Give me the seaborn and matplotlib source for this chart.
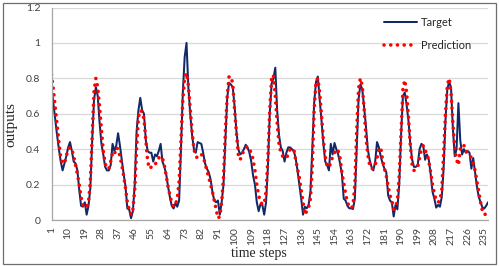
import matplotlib
matplotlib.use("Agg")
import matplotlib.pyplot as plt
from matplotlib.patches import Rectangle
import seaborn as sns
import pandas as pd

# =====================================================
# DATA
# =====================================================

target = [
    0.75, 0.66, 0.57, 0.48, 0.40, 0.33, 0.28, 0.32, 0.36, 0.41,
    0.44, 0.39, 0.33, 0.32, 0.28, 0.17, 0.08, 0.075, 0.10, 0.03,
    0.08, 0.18, 0.45, 0.68, 0.75, 0.70, 0.55, 0.43, 0.37, 0.30,
    0.28, 0.28, 0.31, 0.43, 0.39, 0.42, 0.49, 0.42, 0.34, 0.26,
    0.19, 0.065, 0.06, 0.01, 0.05, 0.20, 0.50, 0.62, 0.69, 0.62,
    0.60, 0.45, 0.39, 0.38, 0.38, 0.33, 0.37, 0.36, 0.39, 0.43,
    0.33, 0.30, 0.26, 0.19, 0.13, 0.08, 0.065, 0.095, 0.075, 0.11,
    0.40, 0.72, 0.92, 1.0, 0.75, 0.60, 0.48, 0.40, 0.38, 0.44,
    0.435, 0.43, 0.38, 0.32, 0.29, 0.27, 0.23, 0.16, 0.11, 0.10,
    0.11, 0.03, 0.10, 0.20, 0.45, 0.69, 0.775, 0.765, 0.75, 0.64,
    0.50, 0.40, 0.37, 0.38, 0.40, 0.425, 0.41, 0.38, 0.33, 0.25,
    0.20, 0.10, 0.05, 0.09, 0.085, 0.03, 0.10, 0.30, 0.60, 0.77,
    0.80, 0.86, 0.62, 0.48, 0.41, 0.39, 0.33, 0.38, 0.41, 0.41,
    0.40, 0.39, 0.35, 0.28, 0.20, 0.12, 0.03, 0.075, 0.066, 0.085,
    0.16, 0.40, 0.66, 0.78, 0.81, 0.68, 0.56, 0.43, 0.33, 0.31,
    0.28, 0.43, 0.37, 0.435, 0.40, 0.37, 0.32, 0.26, 0.12, 0.11,
    0.08, 0.066, 0.066, 0.062, 0.12, 0.40, 0.68, 0.765, 0.74, 0.64,
    0.53, 0.40, 0.34, 0.30, 0.28, 0.33, 0.44, 0.41, 0.36, 0.32,
    0.29, 0.27, 0.14, 0.11, 0.10, 0.02, 0.085, 0.06, 0.20, 0.48,
    0.70, 0.72, 0.65, 0.56, 0.43, 0.34, 0.30, 0.30, 0.31, 0.40,
    0.43, 0.42, 0.34, 0.37, 0.34, 0.26, 0.16, 0.12, 0.07, 0.085,
    0.075, 0.13, 0.29, 0.56, 0.74, 0.78, 0.75, 0.52, 0.36, 0.40,
    0.66, 0.45, 0.37, 0.40, 0.38, 0.39, 0.38, 0.29, 0.35, 0.27,
    0.19, 0.13, 0.10, 0.07, 0.065, 0.08, 0.10,
]

prediction = [
    0.82, 0.74, 0.64, 0.54, 0.44, 0.35, 0.32, 0.32, 0.36, 0.40,
    0.41, 0.40, 0.36, 0.31, 0.26, 0.20, 0.13, 0.08, 0.07, 0.075,
    0.10, 0.22, 0.48, 0.73, 0.80, 0.75, 0.64, 0.51, 0.39, 0.32,
    0.29, 0.29, 0.33, 0.38, 0.37, 0.41, 0.40, 0.36, 0.31, 0.25,
    0.18, 0.10, 0.06, 0.03, 0.06, 0.17, 0.40, 0.58, 0.62, 0.61,
    0.57, 0.45, 0.33, 0.29, 0.30, 0.30, 0.31, 0.34, 0.35, 0.36,
    0.35, 0.31, 0.25, 0.19, 0.14, 0.10, 0.075, 0.09, 0.12, 0.22,
    0.45, 0.68, 0.80, 0.83, 0.76, 0.63, 0.50, 0.40, 0.36, 0.35,
    0.36, 0.37, 0.36, 0.32, 0.28, 0.24, 0.20, 0.16, 0.11, 0.06,
    0.01, 0.02, 0.10, 0.24, 0.50, 0.70, 0.81, 0.81, 0.77, 0.62,
    0.49, 0.37, 0.34, 0.37, 0.39, 0.41, 0.415, 0.40, 0.38, 0.34,
    0.28, 0.20, 0.14, 0.10, 0.09, 0.09, 0.16, 0.35, 0.62, 0.80,
    0.82, 0.70, 0.55, 0.43, 0.38, 0.36, 0.35, 0.35, 0.37, 0.40,
    0.40, 0.40, 0.34, 0.29, 0.24, 0.17, 0.10, 0.03, 0.05, 0.07,
    0.12, 0.30, 0.62, 0.78, 0.80, 0.72, 0.59, 0.45, 0.36, 0.30,
    0.30, 0.32, 0.36, 0.38, 0.40, 0.39, 0.35, 0.27, 0.21, 0.15,
    0.10, 0.075, 0.066, 0.08, 0.20, 0.50, 0.74, 0.80, 0.76, 0.63,
    0.47, 0.37, 0.31, 0.29, 0.29, 0.31, 0.35, 0.40, 0.41, 0.34,
    0.29, 0.25, 0.19, 0.14, 0.11, 0.06, 0.07, 0.11, 0.25, 0.50,
    0.74, 0.79, 0.72, 0.58, 0.42, 0.31, 0.28, 0.29, 0.30, 0.35,
    0.40, 0.42, 0.39, 0.38, 0.33, 0.27, 0.20, 0.15, 0.11, 0.10,
    0.11, 0.17, 0.37, 0.60, 0.76, 0.80, 0.72, 0.55, 0.41, 0.34,
    0.31, 0.40, 0.425, 0.42, 0.39, 0.38, 0.37, 0.35, 0.32, 0.28,
    0.22, 0.16, 0.10, 0.05, 0.03, 0.035, 0.045,
]

steps = list(range(1, len(target) + 1))
x_ticks = list(range(1, 236, 9))
y_ticks = [0, 0.2, 0.4, 0.6, 0.8, 1, 1.2]
y_labels = ["0", "0.2", "0.4", "0.6", "0.8", "1", "1.2"]

df = pd.DataFrame({"step": steps, "Target": target, "Prediction": prediction})

# =====================================================
# STYLE
# =====================================================

sns.set_style("white")
plt.rcParams['font.family'] = ['Lato', 'DejaVu Sans']

fig = plt.figure(figsize=(4.99, 2.66), dpi=100)
ax = fig.add_axes([51.5 / 499, 1 - 220 / 266, (488 - 51.5) / 499, (220 - 7.5) / 266])

# =====================================================
# LINES
# =====================================================

sns.lineplot(
    data=df, x="step", y="Target", ax=ax,
    color='#102a68', linewidth=1.45, label='Target'
)

sns.lineplot(
    data=df, x="step", y="Prediction", ax=ax,
    color='#ff0000', linewidth=2.6,
    linestyle=(0, (0.01, 1.85)), dash_capstyle='round',
    label='Prediction'
)

# =====================================================
# AXES
# =====================================================

ax.set_xlim(1, len(steps))
ax.set_ylim(0, 1.2)

ax.set_xticks(x_ticks)
ax.set_xticklabels([str(t) for t in x_ticks], rotation=90, fontsize=7.5, color='#404040')
ax.set_yticks(y_ticks)
ax.set_yticklabels(y_labels, fontsize=7.5, color='#404040')
ax.tick_params(axis='both', length=0)
ax.tick_params(axis='y', pad=8)
ax.tick_params(axis='x', pad=5)

ax.grid(axis='y', color='#d9d9d9', linewidth=0.9)
ax.set_axisbelow(True)

for side in ['top', 'right']:
    ax.spines[side].set_visible(False)
for side in ['left', 'bottom']:
    ax.spines[side].set_color('#a6a6a6')
    ax.spines[side].set_linewidth(0.9)

ax.set_xlabel("time steps", fontsize=10, family='Liberation Serif')
ax.set_ylabel("outputs", fontsize=11, family='Liberation Serif')
ax.xaxis.set_label_coords(0.475, -0.128)
ax.yaxis.set_label_coords(-0.079, 0.447)

leg = ax.legend(
    loc='upper left',
    bbox_to_anchor=(384 / 499, 1 - 17 / 266),
    bbox_transform=fig.transFigure,
    frameon=False,
    fontsize=8,
    handlelength=3.0,
    handletextpad=0.3,
    labelspacing=1.05,
    borderpad=0,
    borderaxespad=0,
)

# outer chart border
fig.patches.append(Rectangle(
    (2.5 / 499, 2.5 / 266), 493.5 / 499, 260.5 / 266,
    transform=fig.transFigure, fill=False,
    edgecolor='#6e6e6e', linewidth=0.9
))

plt.savefig("out.png", dpi=100)
plt.close()
